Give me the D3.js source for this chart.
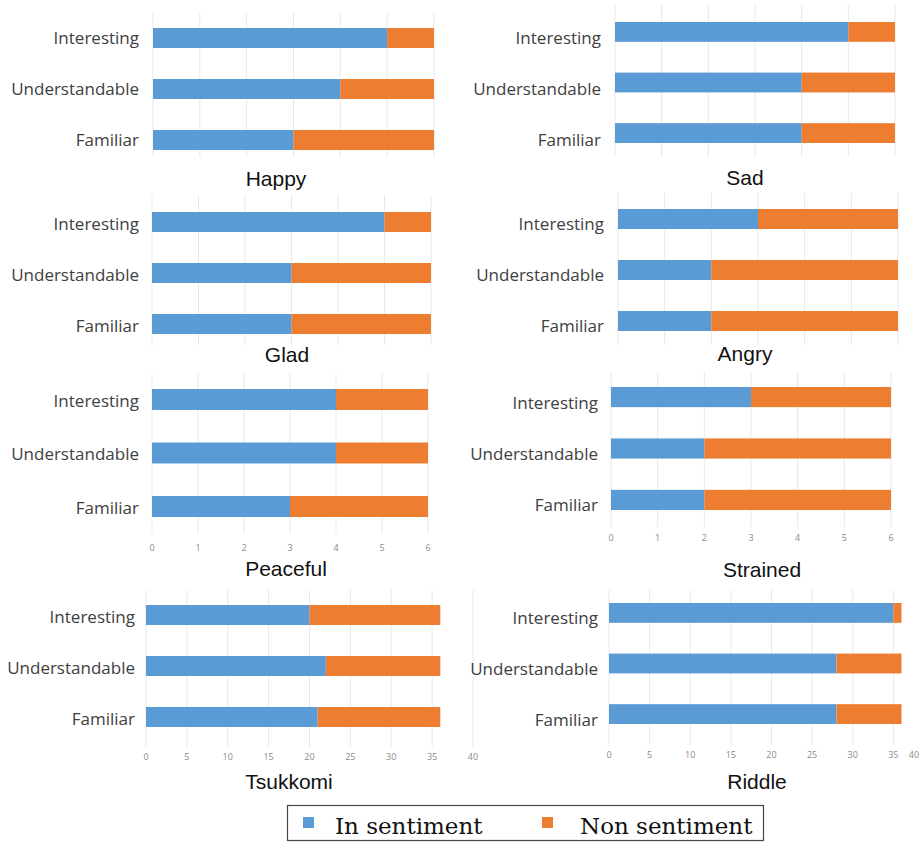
<!DOCTYPE html>
<html>
<head>
<meta charset="utf-8">
<script src="https://cdn.jsdelivr.net/npm/d3@7"></script>
<style>
  html, body { margin: 0; padding: 0; background: #fff; }
  svg { display: block; }
</style>
</head>
<body>
<svg id="chart" width="922" height="842"></svg>
<script>
// ---------------- DATA ----------------
const categories = ["Interesting", "Understandable", "Familiar"];
const panelNames = ["Happy", "Sad", "Glad", "Angry", "Peaceful", "Strained", "Tsukkomi", "Riddle"];
// values per panel, in category order (Interesting, Understandable, Familiar)
const inSentiment = [
  [5, 4, 3],    // Happy
  [5, 4, 4],    // Sad
  [5, 3, 3],    // Glad
  [3, 2, 2],    // Angry
  [4, 4, 3],    // Peaceful
  [3, 2, 2],    // Strained
  [20, 22, 21], // Tsukkomi
  [35, 28, 28]  // Riddle
];
const nonSentiment = [
  [1, 2, 3],
  [1, 2, 2],
  [1, 3, 3],
  [3, 4, 4],
  [2, 2, 3],
  [3, 4, 4],
  [16, 14, 15],
  [1, 8, 8]
];
const axisMax = [6, 6, 6, 6, 6, 6, 40, 40];
const ticksSmall = [0, 1, 2, 3, 4, 5, 6];
const ticksLarge = [0, 5, 10, 15, 20, 25, 30, 35, 40];
const showTickLabels = [false, false, false, false, true, true, true, true];
const seriesNames = ["In sentiment", "Non sentiment"];

// ---------------- LAYOUT ----------------
const layout = [
  { x0: 153, x1: 434, barTop: 28,  barBot: 150, gTop: 13,  gBot: 157, tickY: 0,   titleX: 276, titleY: 186, lDy: 0.5, lGap: 14 },
  { x0: 615, x1: 895, barTop: 22,  barBot: 143, gTop: 5,   gBot: 157, tickY: 0,   titleX: 745, titleY: 185, lDy: 6.5, lGap: 14 },
  { x0: 152, x1: 431, barTop: 212, barBot: 334, gTop: 195, gBot: 345, tickY: 0,   titleX: 287, titleY: 362, lDy: 2,   lGap: 13 },
  { x0: 618, x1: 898, barTop: 209, barBot: 331, gTop: 193, gBot: 345, tickY: 0,   titleX: 745, titleY: 361, lDy: 5.5, lGap: 14 },
  { x0: 152, x1: 428, barTop: 389, barBot: 517, gTop: 373, gBot: 533, tickY: 551, titleX: 286, titleY: 576, lDy: 1.5, lGap: 13 },
  { x0: 611, x1: 891, barTop: 387, barBot: 510, gTop: 372, gBot: 527, tickY: 541, titleX: 762, titleY: 577, lDy: 5.5, lGap: 13 },
  { x0: 146, x1: 473, barTop: 605, barBot: 727, gTop: 590, gBot: 747, tickY: 760, titleX: 289, titleY: 789, lDy: 2.5, lGap: 11 },
  { x0: 609, x1: 934, barTop: 603, barBot: 724, gTop: 590, gBot: 745, tickY: 758, titleX: 757, titleY: 789, lDy: 5.5, lGap: 11 }
];
const colors = ["#5B9BD5", "#ED7D31"];
const W = 922;

const svg = d3.select("#chart");

panelNames.forEach((name, i) => {
  const L = layout[i];
  const x = d3.scaleLinear().domain([0, axisMax[i]]).range([L.x0, L.x1]);
  const y = d3.scaleBand().domain(categories).range([L.barTop, L.barBot]).paddingInner(0.608).paddingOuter(0);
  const ticks = axisMax[i] === 6 ? ticksSmall : ticksLarge;
  const g = svg.append("g").attr("class", "panel");

  // gridlines
  g.append("g").selectAll("line").data(ticks).join("line")
    .attr("x1", d => x(d)).attr("x2", d => x(d))
    .attr("y1", L.gTop).attr("y2", L.gBot)
    .attr("stroke", "#e9e9e9").attr("stroke-width", 1);

  // stacked bars
  const rows = categories.map((c, k) => ({ cat: c, a: inSentiment[i][k], b: nonSentiment[i][k] }));
  const stacked = d3.stack().keys(["a", "b"])(rows);
  g.append("g").selectAll("g").data(stacked).join("g")
    .attr("fill", (d, s) => colors[s])
    .selectAll("rect").data(d => d).join("rect")
    .attr("x", d => x(d[0]))
    .attr("width", d => x(d[1]) - x(d[0]))
    .attr("y", d => y(d.data.cat))
    .attr("height", y.bandwidth());

  // y labels
  g.append("g").selectAll("text").data(categories).join("text")
    .attr("x", L.x0 - L.lGap)
    .attr("y", d => y(d) + y.bandwidth() / 2 + L.lDy)
    .attr("dy", "0.35em")
    .attr("text-anchor", "end")
    .attr("font-family", "'Open Sans', sans-serif")
    .attr("font-size", 17)
    .attr("fill", "#404040")
    .text(d => d);

  // x tick labels
  if (showTickLabels[i]) {
    g.append("g").selectAll("text").data(ticks).join("text")
      .attr("x", d => Math.min(x(d), W - 8))
      .attr("y", L.tickY)
      .attr("text-anchor", "middle")
      .attr("font-family", "'Open Sans', sans-serif")
      .attr("font-size", 9)
      .attr("fill", "#8a8a8a")
      .text(d => d);
  }

  // title
  g.append("text")
    .attr("x", L.titleX).attr("y", L.titleY)
    .attr("text-anchor", "middle")
    .attr("font-family", "'Liberation Sans', Arial, sans-serif")
    .attr("font-size", 21)
    .attr("fill", "#111")
    .text(name);
});

// ---------------- LEGEND ----------------
const lg = svg.append("g");
lg.append("rect").attr("x", 287.5).attr("y", 805.5).attr("width", 476).attr("height", 35)
  .attr("fill", "#fff").attr("stroke", "#444").attr("stroke-width", 1.2);
const legendItems = [
  { sx: 303, tx: 335 },
  { sx: 542, tx: 580 }
];
seriesNames.forEach((s, k) => {
  lg.append("rect").attr("x", legendItems[k].sx).attr("y", 817).attr("width", 11).attr("height", 11)
    .attr("fill", colors[k]);
  lg.append("text").attr("x", legendItems[k].tx).attr("y", 834)
    .attr("font-family", "'DejaVu Serif', serif")
    .attr("font-size", 23)
    .attr("fill", "#111")
    .text(s);
});
</script>
</body>
</html>
